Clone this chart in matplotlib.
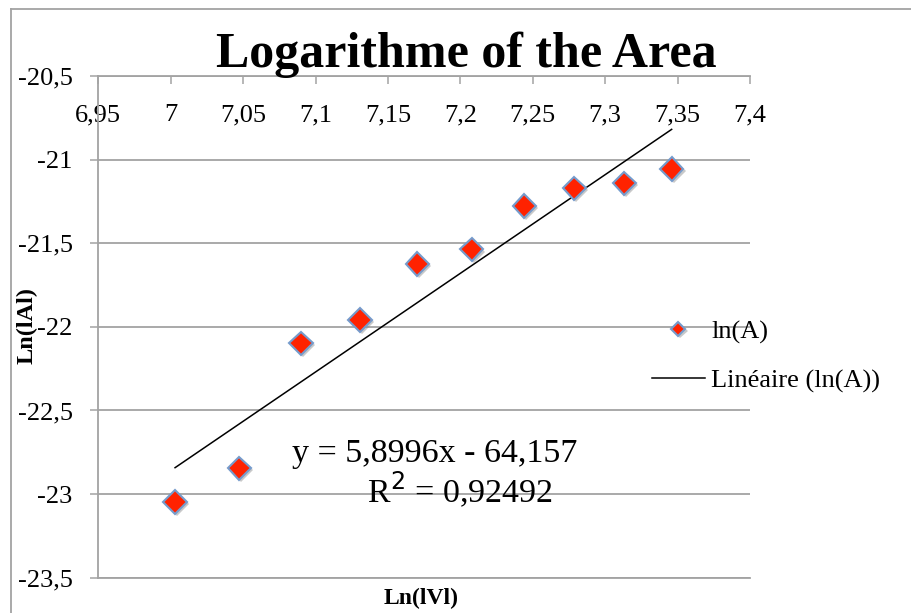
import numpy as np
import matplotlib
matplotlib.use("Agg")
import matplotlib.pyplot as plt
import matplotlib.patheffects as pe
from matplotlib.lines import Line2D
from matplotlib.ticker import FuncFormatter, MultipleLocator

# ---- data ----
ln_v = [7.0030, 7.0474, 7.0900, 7.1307, 7.1703, 7.2077, 7.2442, 7.2787, 7.3132, 7.3459]
ln_a = [-23.048, -22.846, -22.099, -21.959, -21.624, -21.537, -21.278, -21.172, -21.142, -21.056]
slope = 5.8996
intercept = -64.157
r2 = 0.92492
title = "Logarithme of the Area"
xlabel = "Ln(lVl)"
ylabel = "Ln(lAl)"
series_label = "ln(A)"
trend_label = "Linéaire (ln(A))"

W, H = 911, 613
fig = plt.figure(figsize=(W / 100, H / 100), dpi=100)
fig.patch.set_facecolor("white")

def px(x, y):
    return x / W, 1 - y / H

serif = ["Liberation Serif", "DejaVu Serif"]
GRAY = "#a3a3a3"

L, R, T, B = 98.3, 750, 76, 577.7
ax = fig.add_axes([L / W, 1 - B / H, (R - L) / W, (B - T) / H])
ax.set_xlim(6.95, 7.4)
ax.set_ylim(-23.5, -20.5)

def comma_fmt(v, pos):
    s = "%g" % round(v, 4)
    return s.replace(".", ",")

ax.xaxis.set_major_locator(MultipleLocator(0.05))
ax.yaxis.set_major_locator(MultipleLocator(0.5))
ax.xaxis.set_major_formatter(FuncFormatter(comma_fmt))
ax.yaxis.set_major_formatter(FuncFormatter(comma_fmt))

ax.tick_params(axis="x", top=True, bottom=False, labeltop=True, labelbottom=False,
               direction="in", length=5.5, width=1.1, color=GRAY, pad=-36,
               labelsize=19)
ax.tick_params(axis="y", left=True, direction="out", length=6, width=1.1,
               color=GRAY, pad=12.5, labelsize=19)
for lbl in ax.get_xticklabels() + ax.get_yticklabels():
    lbl.set_family(serif)

for s in ["left", "top", "bottom"]:
    ax.spines[s].set_color(GRAY)
    ax.spines[s].set_linewidth(1.3)
ax.spines["right"].set_visible(False)
ax.yaxis.grid(True, color=GRAY, linewidth=1.3)
ax.set_axisbelow(True)

# trendline
xt = np.array([min(ln_v), max(ln_v)])
ax.plot(xt, slope * xt + intercept, color="black", linewidth=1.1,
        label=trend_label, zorder=2)

# points
shadow = [pe.SimplePatchShadow(offset=(1.5, -1.5), shadow_rgbFace="#888888", alpha=0.45),
          pe.Normal()]
pts, = ax.plot(ln_v, ln_a, linestyle="none", marker="D", markersize=12,
               markerfacecolor="#ff2200", markeredgecolor="#759bcc",
               markeredgewidth=1.5, label=series_label, zorder=3,
               path_effects=shadow)

# legend
h_tr = ax.get_lines()[0]
leg = fig.legend([pts, h_tr], [series_label, trend_label],
                 loc="upper left", bbox_to_anchor=px(652, 320),
                 frameon=False, prop={"family": serif, "size": 19},
                 handlelength=2.0, handletextpad=0.25, labelspacing=0.95,
                 borderpad=0, borderaxespad=0, markerscale=0.6, numpoints=1)

# title
fig.text(*px(466.5, 66.7), title, ha="center", va="baseline",
         fontsize=36, fontweight="bold", family=serif)

# equation
fig.text(*px(435, 461.7), "y = 5,8996x - 64,157", ha="center", va="baseline",
         fontsize=24.5, family=serif)
fig.text(*px(460, 503), "R$^2$ = " + ("%g" % r2).replace(".", ","), ha="center",
         va="baseline", fontsize=24.5, family=serif)

# axis titles
fig.text(*px(421, 598), xlabel, ha="center", va="center", fontsize=17,
         fontweight="bold", family=serif)
fig.text(*px(27, 325), ylabel, ha="center", va="center", rotation=90,
         fontsize=17.5, fontweight="bold", family=serif)

# chart border
fig.add_artist(Line2D([11 / W, 11 / W], [1 - 9 / H, 0], color=GRAY, linewidth=1.3))
fig.add_artist(Line2D([11 / W, 1], [1 - 9 / H, 1 - 9 / H], color=GRAY, linewidth=1.3))

fig.savefig("out.png", dpi=100, facecolor="white")
